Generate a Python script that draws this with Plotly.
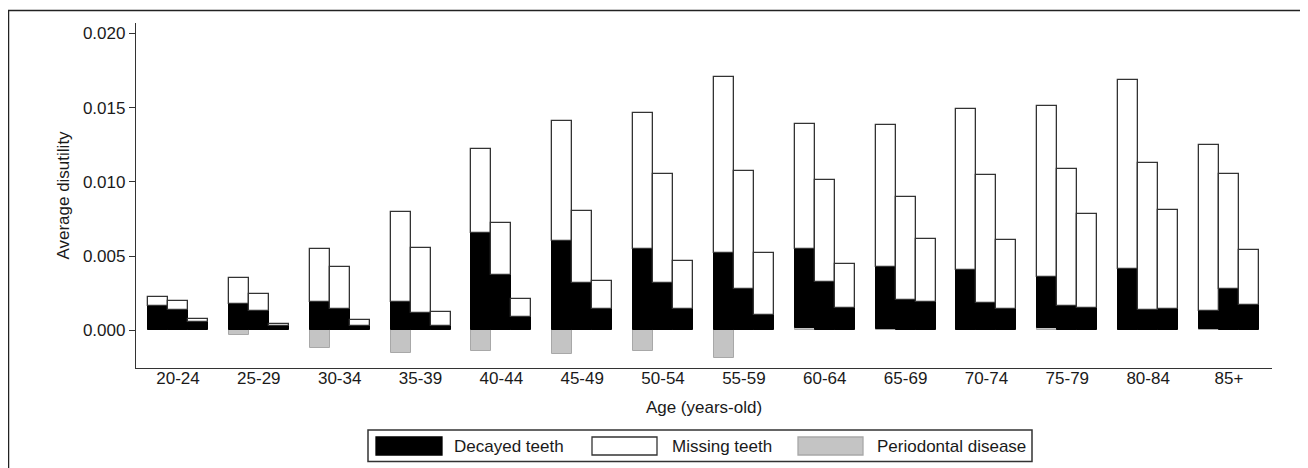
import plotly.graph_objects as go

# ---------------- data ----------------
age_groups = ["20-24", "25-29", "30-34", "35-39", "40-44", "45-49", "50-54",
              "55-59", "60-64", "65-69", "70-74", "75-79", "80-84", "85+"]

# three bars per age group (series 1, 2, 3)
decayed_s1 = [0.00162, 0.00180, 0.00190, 0.00190, 0.00654, 0.00600, 0.00550,
              0.00522, 0.00532, 0.00416, 0.00403, 0.00341, 0.00406, 0.00120]
decayed_s2 = [0.00135, 0.00128, 0.00142, 0.00117, 0.00371, 0.00319, 0.00319,
              0.00281, 0.00326, 0.00202, 0.00184, 0.00162, 0.00135, 0.00276]
decayed_s3 = [0.00056, 0.00027, 0.00027, 0.00032, 0.00090, 0.00146, 0.00146,
              0.00101, 0.00153, 0.00191, 0.00142, 0.00148, 0.00142, 0.00169]

missing_s1 = [0.00062, 0.00175, 0.00360, 0.00607, 0.00566, 0.00810, 0.00915,
              0.01185, 0.00840, 0.00957, 0.01086, 0.01155, 0.01279, 0.01123]
missing_s2 = [0.00062, 0.00119, 0.00288, 0.00438, 0.00352, 0.00485, 0.00735,
              0.00791, 0.00690, 0.00699, 0.00865, 0.00923, 0.00990, 0.00777]
missing_s3 = [0.00023, 0.00018, 0.00045, 0.00094, 0.00119, 0.00186, 0.00321,
              0.00423, 0.00292, 0.00424, 0.00469, 0.00638, 0.00668, 0.00375]

periodontal_s1 = [0.0, -0.00034, -0.00120, -0.00150, -0.00142, -0.00157, -0.00142,
                  -0.00184, 0.00018, 0.00011, 0.00005, 0.00018, 0.00005, 0.00008]

y_tick_vals = [0.0, 0.005, 0.010, 0.015, 0.020]
legend_labels = ["Decayed teeth", "Missing teeth", "Periodontal disease"]

# ---------------- layout constants ----------------
OFF = 8                      # page offset of the plot div
W, H = 1300, 460
L, R, T, B = 128, 36, 15, 100
PW, PH = W - L - R, H - T - B
BAR_W = 0.2474
FONT = "Liberation Sans, Arial, sans-serif"
TXT = "#1a1a1a"

def px(xp):                  # page pixel -> paper
    return (xp - OFF - L) / PW

def py(yp):
    return (H - B - (yp - OFF)) / PH

n = len(age_groups)
offsets = [-BAR_W, 0.0, BAR_W]
x_all, dec_all, mis_all = [], [], []
for j, (d, m) in enumerate([(decayed_s1, missing_s1), (decayed_s2, missing_s2), (decayed_s3, missing_s3)]):
    for i in range(n):
        x_all.append(i + offsets[j])
        dec_all.append(d[i])
        mis_all.append(m[i])
x_s1 = [i + offsets[0] for i in range(n)]

fig = go.Figure()
fig.add_trace(go.Bar(x=x_s1, y=periodontal_s1, width=BAR_W, name=legend_labels[2],
                     marker=dict(color="#c4c4c4", line=dict(color="#a8a8a8", width=1)),
                     showlegend=False))
fig.add_trace(go.Bar(x=x_all, y=dec_all, width=BAR_W, name=legend_labels[0],
                     marker=dict(color="#000000", line=dict(color="#000000", width=1)),
                     showlegend=False))
fig.add_trace(go.Bar(x=x_all, y=mis_all, width=BAR_W, name=legend_labels[1],
                     marker=dict(color="#ffffff", line=dict(color="#333333", width=1.3)),
                     showlegend=False))

shapes = []
annotations = []
# outer frame (right/bottom run off the canvas)
shapes.append(dict(type="rect", xref="paper", yref="paper",
                   x0=px(8.5), x1=px(1330), y0=py(490), y1=py(10.5),
                   line=dict(color="#222222", width=1.5), fillcolor="rgba(0,0,0,0)", layer="below"))

# legend box
lx0, lx1, ly0, ly1 = 368, 1032, 430, 461.5
shapes.append(dict(type="rect", xref="paper", yref="paper",
                   x0=px(lx0), x1=px(lx1), y0=py(ly1), y1=py(ly0),
                   line=dict(color="#333333", width=1.5), fillcolor="white"))
sw_y0, sw_y1 = 437, 455
items = [(376, 442, "#000000", "#000000", 452, legend_labels[0]),
         (592, 657, "#ffffff", "#333333", 670, legend_labels[1]),
         (798, 863, "#c4c4c4", "#a8a8a8", 875, legend_labels[2])]
for sx0, sx1, fill, line, tx, label in items:
    shapes.append(dict(type="rect", xref="paper", yref="paper",
                       x0=px(sx0), x1=px(sx1), y0=py(sw_y1), y1=py(sw_y0),
                       line=dict(color=line, width=1.3), fillcolor=fill))
    annotations.append(dict(x=px(tx), y=py(446), xref="paper", yref="paper",
                            text=label, showarrow=False, xanchor="left", yanchor="middle",
                            font=dict(family=FONT, size=17, color=TXT)))

fig.update_layout(
    width=W, height=H,
    margin=dict(l=L, r=R, t=T, b=B, autoexpand=False),
    paper_bgcolor="white", plot_bgcolor="white",
    barmode="relative", bargap=0,
    showlegend=False,
    font=dict(family=FONT, size=17, color=TXT),
    shapes=shapes, annotations=annotations,
    xaxis=dict(range=[-0.519, 13.532], tickmode="array", tickvals=list(range(n)),
               ticktext=age_groups, showgrid=False, zeroline=False,
               showline=True, linecolor="#333333", linewidth=1.3, ticks="",
               ticklabelstandoff=-6,
               title=dict(text="Age (years-old)", standoff=14,
                          font=dict(family=FONT, size=17, color=TXT)),
               automargin=False, tickfont=dict(family=FONT, size=17, color=TXT)),
    yaxis=dict(range=[-0.00254, 0.02071], tickmode="array", tickvals=y_tick_vals,
               tickformat=".3f", showgrid=False, zeroline=False,
               showline=True, linecolor="#333333", linewidth=1.3,
               ticks="outside", ticklen=6, tickcolor="#333333", tickwidth=1.3,
               title=dict(text="Average disutility", standoff=8,
                          font=dict(family=FONT, size=17, color=TXT)),
               automargin=False, tickfont=dict(family=FONT, size=17, color=TXT)),
)

fig.write_html("out.html")
